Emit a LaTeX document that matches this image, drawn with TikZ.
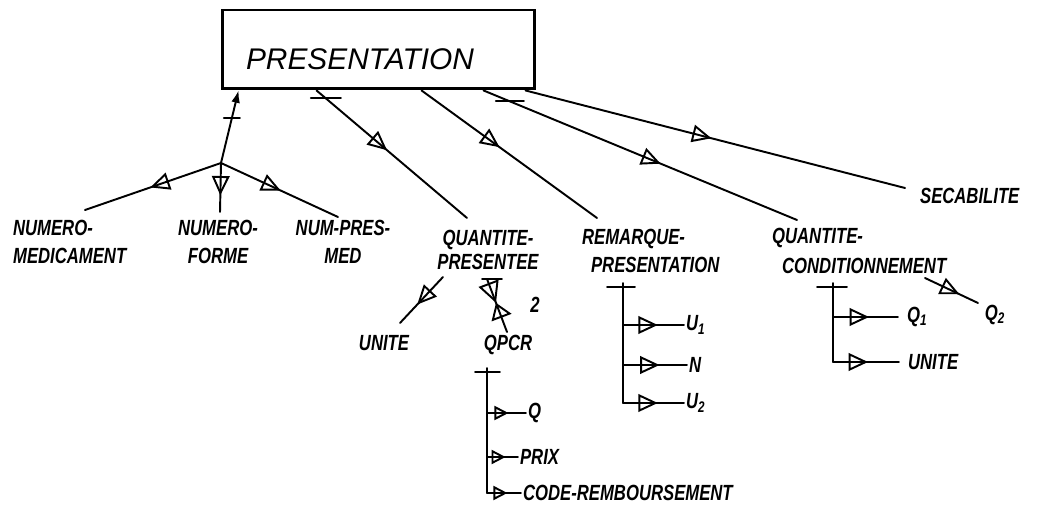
\documentclass[tikz,border=0pt]{standalone}
\usepackage{fontspec}
\newfontfamily\handfont{Liberation Sans}[FakeStretch=0.76]
\newfontfamily\boxfont{Liberation Sans}
\usetikzlibrary{arrows.meta,decorations.markings,calc}
\begin{document}
\begin{tikzpicture}[x=0.02cm,y=-0.02cm,
  ln/.style={line width=1.1pt,line cap=round},
  lbl/.style={font=\handfont\bfseries\itshape\fontsize{12.5}{16}\selectfont,inner sep=1pt,align=center},
  tri/.style={postaction={decorate},decoration={markings,mark=at position #1 with {\arrow[line width=1.1pt]{Triangle[open,length=11pt,width=10pt]}}}},
  stri/.style={postaction={decorate},decoration={markings,mark=at position #1 with {\arrow[line width=1.1pt]{Triangle[open,length=8pt,width=8pt]}}}},
  hglass/.style={postaction={decorate},decoration={markings,mark=at position #1 with {\arrow[line width=1.1pt]{Triangle[open,length=12pt,width=12pt]}\arrowreversed[line width=1.1pt]{Triangle[open,length=9pt,width=12pt]}}}},
  tickbar/.style={line width=1.1pt,line cap=round}]
\useasboundingbox (0,0) rectangle (1041,506);

% entity box
\node[draw,line width=1.7pt,minimum width=6.26cm,minimum height=1.58cm,inner sep=0pt] (pres) at (378.5,49.5) {};
\node[font=\boxfont\itshape\fontsize{17}{19}\selectfont,inner sep=0pt] (prestxt) at (360,59) {PRESENTATION};

\coordinate (b1) at ($(pres.south west)+(18,0)$);
\coordinate (b2) at ($(pres.south west)+(96,0)$);
\coordinate (b3) at ($(pres.south west)+(201,0)$);
\coordinate (b4) at ($(pres.south west)+(263,0)$);
\coordinate (b5) at ($(pres.south west)+(305,0)$);

% identifier group
\coordinate (J) at (221,163);
\draw[ln,-{Latex[length=7pt,width=5pt]}] (J) -- coordinate[pos=0.62] (t0) (b1);
\draw[tickbar] ($(t0)+(-8,0)$) -- ($(t0)+(8,0)$);
\coordinate (nmE) at (85,210);
\coordinate (nfE) at (220,212);
\coordinate (npE) at (338,217);
\draw[ln,tri=0.52] (J) -- (nmE);
\draw[ln,tri=0.66] (J) -- (nfE);
\draw[ln,tri=0.51] (J) -- (npE);

% main attribute lines
\coordinate (qpE) at (467,218);
\draw[ln,tri=0.47] (b2) -- coordinate[pos=0.062] (t1) (qpE);
\draw[tickbar] ($(t1)+(-15,0)$) -- ($(t1)+(15,0)$);
\coordinate (rpE) at (597,218);
\draw[ln,tri=0.445] (b3) -- (rpE);
\coordinate (qcE) at (797,220);
\draw[ln,tri=0.565] (b4) -- coordinate[pos=0.084] (t2) (qcE);
\draw[tickbar] ($(t2)+(-14,0)$) -- ($(t2)+(14,0)$);
\coordinate (secE) at (905,188);
\draw[ln,tri=0.49] (b5) -- (secE);

% labels
\node[lbl,align=left,anchor=west] (nm) at (11,242) {NUMERO-\\MEDICAMENT};
\node[lbl] (nf) at (218,242) {NUMERO-\\FORME};
\node[lbl] (np) at (343,242) {NUM-PRES-\\MED};
\node[lbl] (qp) at (488,250) {QUANTITE-\\[-2pt]PRESENTEE};
\node[lbl,align=left,anchor=west] (rp) at (580,251) {REMARQUE-\\\hspace*{0.18cm}PRESENTATION};
\node[lbl,align=left,anchor=west] (qc) at (770,251) {QUANTITE-\\[1.5pt]\hspace*{0.2cm}CONDITIONNEMENT};
\node[lbl,anchor=west] (sec) at (918,196) {SECABILITE};

% QUANTITE-PRESENTEE sub attributes
\coordinate (ua) at (443,277);
\coordinate (ub) at (400,323);
\draw[ln,tri=0.6] (ua) -- (ub);
\node[lbl] (unite1) at (384,343) {UNITE};

\coordinate (qa0) at (487,279);
\coordinate (qa1) at (507,332);
\draw[ln,hglass=0.45] (qa0) -- (qa1);
\draw[tickbar] ($(qa0)+(-5,0)$) -- ($(qa0)+(15,0)$);
\node[lbl] (two) at (535,305) {2};
\node[lbl] (qpcr) at (508,345) {QPCR};

% QPCR tree
\coordinate (pv0) at (487,368);
\coordinate (pv1) at (487,413);
\coordinate (pv2) at (487,457);
\coordinate (pv3) at (487,493);
\draw[tickbar] ($(pv0)+(-12,4)$) -- ($(pv0)+(13,4)$);
\draw[ln] (pv0) -- (pv3);
\node[lbl,anchor=west] (q) at (526,413) {Q};
\node[lbl,anchor=west] (prix) at (518,457) {PRIX};
\node[lbl,anchor=west] (code) at (521,493) {CODE-REMBOURSEMENT};
\draw[ln,stri=0.55] (pv1) -- (q.west);
\draw[ln,stri=0.6] (pv2) -- (prix.west);
\draw[ln,stri=0.6] (pv3) -- (code.west);

% REMARQUE-PRESENTATION tree
\coordinate (rv0) at (623,283);
\coordinate (rv1) at (623,325);
\coordinate (rv2) at (623,365);
\coordinate (rv3) at (623,403);
\draw[tickbar] ($(rv0)+(-16,4)$) -- ($(rv0)+(12,4)$);
\draw[ln] (rv0) -- (rv3);
\node[lbl,anchor=west] (ru1) at (684,325) {U\textsubscript{1}};
\node[lbl,anchor=west] (rn) at (687,365) {N};
\node[lbl,anchor=west] (ru2) at (684,403) {U\textsubscript{2}};
\draw[ln,tri=0.57] (rv1) -- (ru1.west);
\draw[ln,tri=0.57] (rv2) -- (rn.west);
\draw[ln,tri=0.57] (rv3) -- (ru2.west);

% QUANTITE-CONDITIONNEMENT tree
\coordinate (cv0) at (833,283);
\coordinate (cv1) at (833,317);
\coordinate (cv2) at (833,362);
\draw[tickbar] ($(cv0)+(-16,4)$) -- ($(cv0)+(14,4)$);
\draw[ln] (cv0) -- (cv2);
\node[lbl,anchor=west] (cq1) at (905,317) {Q\textsubscript{1}};
\node[lbl,anchor=west] (cun) at (906,362) {UNITE};
\draw[ln,tri=0.5,shorten >=4pt] (cv1) -- (cq1.west);
\draw[ln,tri=0.48,shorten >=4pt] (cv2) -- (cun.west);

\coordinate (qca) at (925,278);
\coordinate (qcb) at (978,303);
\draw[ln,tri=0.65] (qca) -- (qcb);
\node[lbl] (cq2) at (995,315) {Q\textsubscript{2}};
\end{tikzpicture}
\end{document}
